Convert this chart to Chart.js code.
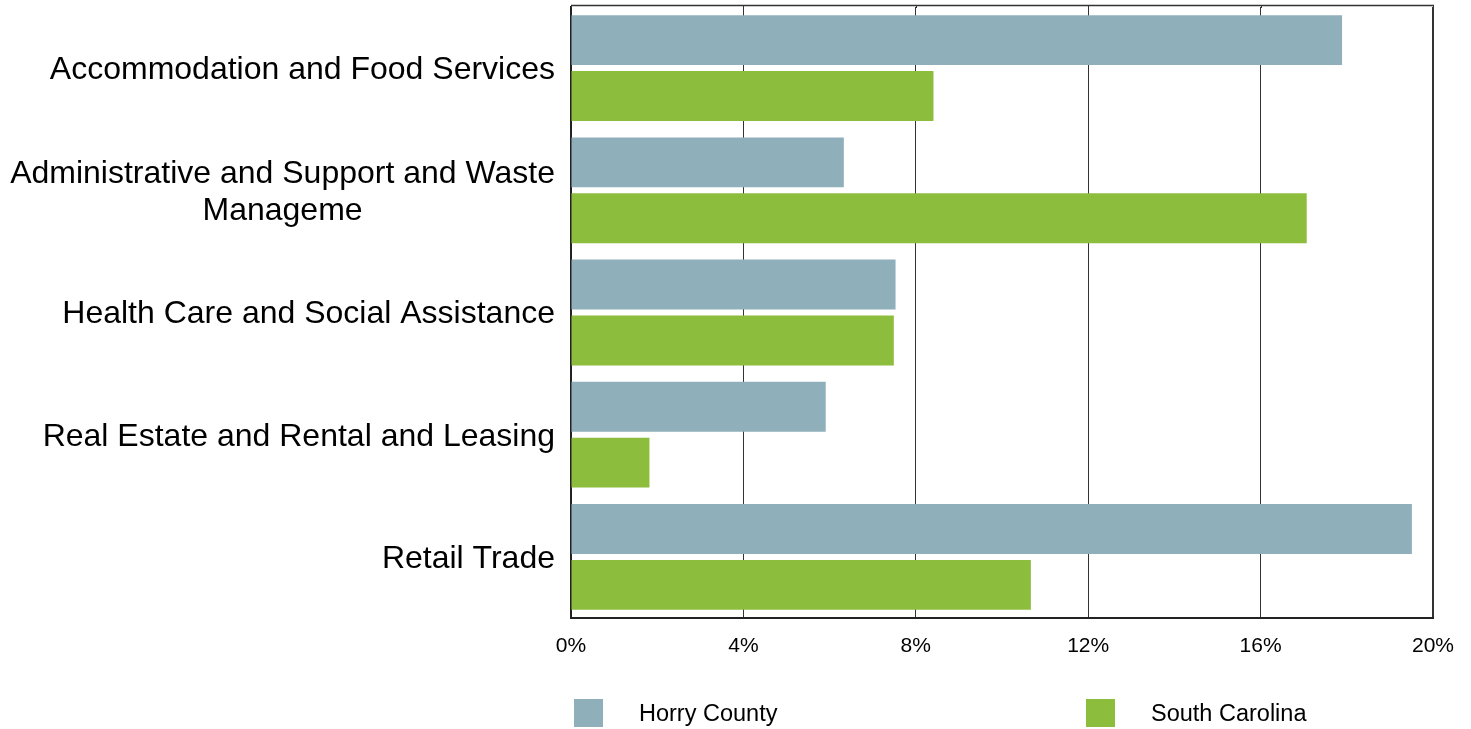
<!DOCTYPE html>
<html>
<head>
<meta charset="utf-8">
<title>Industry share - Horry County vs South Carolina</title>
<script src="https://cdn.jsdelivr.net/npm/chart.js@4.4.1/dist/chart.umd.min.js"></script>
<style>
    html, body { margin: 0; padding: 0; background: #fff; }
    #wrap { position: relative; width: 1471px; height: 729px; }
</style>
</head>
<body>
<div id="wrap"><canvas id="industryChart"></canvas></div>
<script>
// Data (percent)
const categories = [
    "Accommodation and Food Services",
    ["Administrative and Support and Waste", "Manageme"],
    "Health Care and Social Assistance",
    "Real Estate and Rental and Leasing",
    "Retail Trade",
];
const seriesNames = ["Horry County", "South Carolina"];
const horryValues = [17.89, 6.33, 7.53, 5.91, 19.51];
const scValues = [8.41, 17.07, 7.49, 1.82, 10.67];
const xTicks = [0, 4, 8, 12, 16, 20];

const colors = ["#8FAFBA", "#8DBD3C"];
const fontFamily = '"Liberation Sans", Arial, sans-serif';

// Category labels: right-aligned block, lines centred inside it
const categoryLabels = {
    id: "categoryLabels",
    afterDraw(chart) {
        const ctx = chart.ctx;
        const yScale = chart.scales.y;
        const right = chart.chartArea.left - 16;
        const lineHeight = 37;
        ctx.save();
        ctx.font = "32px " + fontFamily;
        ctx.fillStyle = "#000";
        ctx.textAlign = "center";
        ctx.textBaseline = "middle";
        categories.forEach((label, i) => {
            const lines = Array.isArray(label) ? label : [label];
            const maxW = Math.max(...lines.map((l) => ctx.measureText(l).width));
            const cx = right - maxW / 2;
            const cy = yScale.getPixelForTick(i) + 2;
            const y0 = cy - ((lines.length - 1) * lineHeight) / 2;
            lines.forEach((line, j) => {
                ctx.fillText(line, cx, y0 + j * lineHeight);
            });
        });
        ctx.restore();
    },
};

// Top border of the plot + spread-out legend at the bottom
const frameAndLegend = {
    id: "frameAndLegend",
    afterDraw(chart) {
        const ctx = chart.ctx;
        const area = chart.chartArea;
        const xScale = chart.scales.x;
        const topY = area.top - 1.5;
        ctx.save();
        ctx.strokeStyle = "#333";
        ctx.lineWidth = 1;
        xTicks.forEach((v) => {
            const x = Math.round(xScale.getPixelForValue(v)) + 0.5;
            ctx.beginPath();
            ctx.moveTo(x, topY);
            ctx.lineTo(x, area.top + 1);
            ctx.stroke();
        });
        ctx.lineWidth = 1.5;
        ctx.beginPath();
        ctx.moveTo(area.left, topY);
        ctx.lineTo(area.right + 1, topY);
        ctx.stroke();

        const offsets = [3, 515];
        const boxY = chart.height - 30;
        ctx.font = "23.5px " + fontFamily;
        ctx.textBaseline = "middle";
        ctx.textAlign = "left";
        chart.data.datasets.forEach((ds, i) => {
            const x = area.left + offsets[i];
            ctx.fillStyle = ds.backgroundColor;
            ctx.fillRect(x, boxY, 29, 28);
            ctx.fillStyle = "#000";
            ctx.fillText(ds.label, x + 65, boxY + 16);
        });
        ctx.restore();
    },
};

new Chart(document.getElementById("industryChart").getContext("2d"), {
    type: "bar",
    data: {
        labels: categories,
        datasets: [
            {
                label: seriesNames[0],
                data: horryValues,
                backgroundColor: colors[0],
                barPercentage: 0.893,
                categoryPercentage: 0.915,
            },
            {
                label: seriesNames[1],
                data: scValues,
                backgroundColor: colors[1],
                barPercentage: 0.893,
                categoryPercentage: 0.915,
            },
        ],
    },
    options: {
        indexAxis: "y",
        responsive: true,
        maintainAspectRatio: false,
        animation: false,
        layout: {
            padding: { top: 7, right: 38, left: 0, bottom: 0 },
        },
        plugins: {
            legend: { display: false },
            tooltip: { enabled: false },
        },
        scales: {
            x: {
                min: 0,
                max: 20,
                afterBuildTicks: (scale) => {
                    scale.ticks = xTicks.map((v) => ({ value: v }));
                },
                afterFit: (scale) => {
                    scale.height = 111;
                },
                ticks: {
                    padding: 16,
                    color: "#000",
                    font: { family: fontFamily, size: 21 },
                    callback: (v) => v + "%",
                },
                grid: {
                    drawTicks: false,
                    color: "#333",
                    lineWidth: (c) => (c.index === xTicks.length - 1 ? 2 : 1),
                },
                border: { display: true, width: 2, color: "#222" },
            },
            y: {
                afterFit: (scale) => {
                    scale.width = 571;
                },
                ticks: { display: false },
                grid: { display: false },
                border: { display: true, width: 2, color: "#222" },
            },
        },
    },
    plugins: [categoryLabels, frameAndLegend],
});
</script>
</body>
</html>
